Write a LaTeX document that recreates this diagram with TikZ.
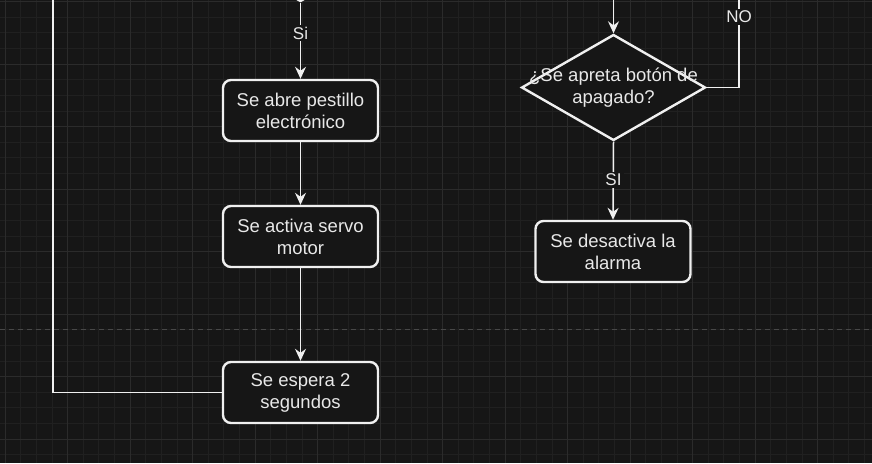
\documentclass[tikz,border=0pt]{standalone}
\usepackage{fontspec}
\setmainfont{Liberation Sans}
\usetikzlibrary{shapes.geometric,arrows.meta}
\definecolor{bg}{HTML}{161616}
\definecolor{gridminor}{HTML}{202020}
\definecolor{gridmajor}{HTML}{2B2B2B}
\definecolor{fg}{HTML}{F0F0F0}
\definecolor{txt}{HTML}{E8E8E8}
\definecolor{pagebreak}{HTML}{484848}
\tikzset{
  box/.style={draw=fg, line width=2.4pt, rounded corners=8pt, fill=bg, text=txt,
    minimum width=155pt, minimum height=61pt, align=center,
    font=\fontsize{18.5}{22}\selectfont, inner sep=0pt},
  decision/.style={diamond, draw=fg, line width=2.4pt, fill=bg,
    minimum width=184pt, minimum height=106pt, inner sep=0pt},
  dtext/.style={text=txt, align=center, font=\fontsize{18.5}{22}\selectfont, inner sep=0pt},
  flow/.style={draw=fg, line width=1.5pt, -{Stealth[length=12pt,width=11pt,inset=4pt]}},
  plain/.style={draw=fg, line width=1.5pt},
  lbl/.style={fill=bg, text=txt, font=\fontsize{17}{20}\selectfont, inner sep=2pt},
}
\begin{document}
\begin{tikzpicture}[x=1pt,y=-1pt]
\useasboundingbox (0,0) rectangle (872,463);
\clip (0,0) rectangle (872,463);
\fill[bg] (0,0) rectangle (872,463);
% grid
\foreach \k in {0,...,55} { \draw[gridminor, line width=0.7pt] ({5+15.625*\k},0) -- ++(0,463); }
\foreach \k in {0,...,29} { \draw[gridminor, line width=0.7pt] (0,{1.5+15.625*\k}) -- ++(872,0); }
\foreach \k in {0,...,13} { \draw[gridmajor, line width=1pt] ({5+62.5*\k},0) -- ++(0,463); }
\foreach \k in {0,...,7} { \draw[gridmajor, line width=1pt] (0,{1.5+62.5*\k}) -- ++(872,0); }
% page break
\draw[pagebreak, line width=1pt, dash pattern=on 5pt off 4pt] (0,329) -- (872,329);

% nodes
\node[decision] (dtop) at (300.5,-51.5) {};
\node[box] (b1) at (300.5,110.5) {Se abre pestillo\\electrónico};
\node[box] (b2) at (300.5,236.5) {Se activa servo\\motor};
\node[box] (b3) at (300.5,392.5) {Se espera 2\\segundos};
\node[decision] (dec) at (613.5,87.5) {};
\node[dtext] (dectxt) at (613.5,88) {¿Se apreta botón de\\apagado?};
\node[box] (b4) at (613,251.5) {Se desactiva la\\alarma};

\coordinate (rtop) at (613.5,-5);
\coordinate (notop) at (739,-5);
\coordinate (looptop) at (53,-5);

% connectors
\draw[flow] (dtop.south) -- (b1.north);
\draw[flow] (b1.south) -- (b2.north);
\draw[flow] (b2.south) -- (b3.north);
\draw[plain] (b3.west) -| (looptop);
\draw[flow] (rtop) -- (dec.north);
\draw[plain] (dec.east) -| (notop);
\draw[flow] (dec.south) -- (b4.north);

% labels
\node[lbl] (lsi1) at (300.5,33) {Si};
\node[lbl] (lno) at (739,17) {NO};
\node[lbl] (lsi2) at (613.5,180) {SI};
\end{tikzpicture}
\end{document}
